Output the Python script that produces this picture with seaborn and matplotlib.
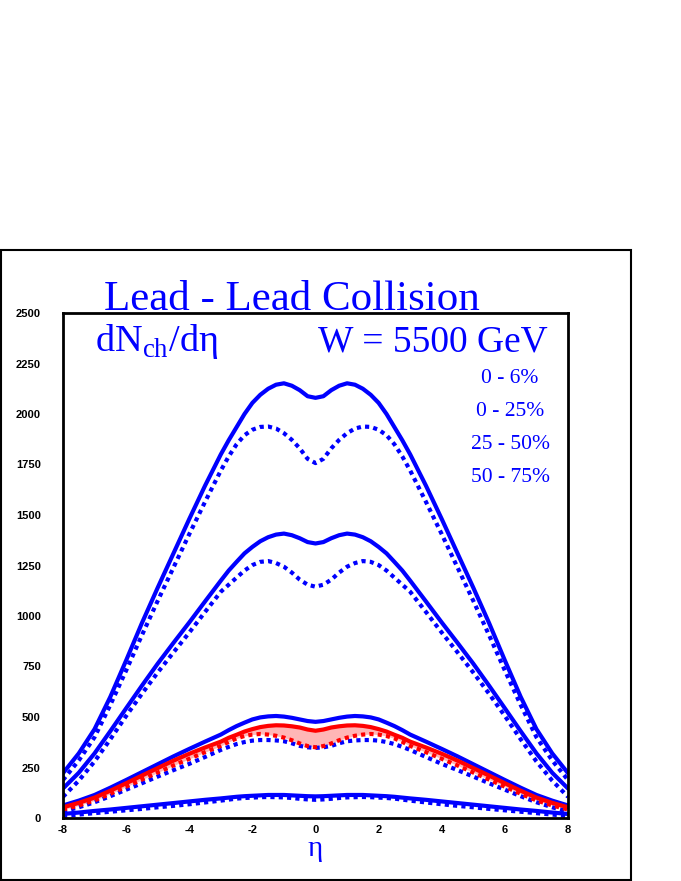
import numpy as np
import matplotlib
matplotlib.use('Agg')
import matplotlib.pyplot as plt
from matplotlib.patches import Rectangle
from matplotlib.ticker import MultipleLocator
import seaborn as sns

# pseudorapidity grid (finer around the central dip)
eta = [-8, -7.5, -7, -6.5, -6, -5.5, -5, -4.5, -4, -3.5, -3,
       -2.75, -2.5, -2.25, -2, -1.75, -1.5, -1.25, -1, -0.75, -0.5, -0.25, 0,
       0.25, 0.5, 0.75, 1, 1.25, 1.5, 1.75, 2, 2.25, 2.5, 2.75,
       3, 3.5, 4, 4.5, 5, 5.5, 6, 6.5, 7, 7.5, 8]

# 0 - 6 %
c1_solid = [222, 320, 440, 600, 780, 965, 1140, 1310, 1480, 1645, 1800,
            1870, 1935, 2000, 2055, 2095, 2125, 2145, 2152, 2140, 2118, 2088, 2080,
            2088, 2118, 2140, 2152, 2145, 2125, 2095, 2055, 2000, 1935, 1870,
            1800, 1645, 1480, 1310, 1140, 965, 780, 600, 440, 320, 222]
c1_dot = [188, 285, 400, 560, 730, 905, 1075, 1240, 1405, 1565, 1720,
          1790, 1850, 1895, 1922, 1936, 1938, 1928, 1905, 1872, 1830, 1778, 1757,
          1778, 1830, 1872, 1905, 1928, 1938, 1936, 1922, 1895, 1850, 1790,
          1720, 1565, 1405, 1240, 1075, 905, 730, 560, 400, 285, 188]
# 0 - 25 %
c2_solid = [146, 224, 320, 430, 543, 655, 764, 867, 968, 1072, 1175,
            1225, 1268, 1310, 1342, 1370, 1390, 1403, 1408, 1400, 1385, 1366, 1359,
            1366, 1385, 1400, 1408, 1403, 1390, 1370, 1342, 1310, 1268, 1225,
            1175, 1072, 968, 867, 764, 655, 543, 430, 320, 224, 146]
c2_dot = [105, 185, 280, 390, 505, 615, 720, 820, 918, 1020, 1120,
          1155, 1190, 1225, 1252, 1268, 1272, 1262, 1244, 1215, 1180, 1155, 1145,
          1155, 1180, 1215, 1244, 1262, 1272, 1268, 1252, 1225, 1190, 1155,
          1120, 1020, 918, 820, 720, 615, 505, 390, 280, 185, 105]
# 25 - 50 %
c3_solid = [62, 86, 114, 150, 188, 227, 266, 305, 342, 378, 413,
            435, 455, 472, 488, 498, 503, 505, 502, 496, 488, 480, 476,
            480, 488, 496, 502, 505, 503, 498, 488, 472, 455, 435,
            413, 378, 342, 305, 266, 227, 188, 150, 114, 86, 62]
red_solid = [53, 75, 101, 135, 172, 210, 247, 284, 318, 349, 378,
             397, 412, 428, 440, 450, 456, 459, 458, 454, 448, 438, 432,
             438, 448, 454, 458, 459, 456, 450, 440, 428, 412, 397,
             378, 349, 318, 284, 247, 210, 172, 135, 101, 75, 53]
red_dot = [42, 62, 87, 120, 155, 190, 225, 260, 293, 326, 357,
           377, 394, 406, 413, 416, 413, 407, 398, 385, 369, 356, 350,
           356, 369, 385, 398, 407, 413, 416, 413, 406, 394, 377,
           357, 326, 293, 260, 225, 190, 155, 120, 87, 62, 42]
c3_dot = [32, 53, 78, 108, 140, 172, 205, 237, 268, 302, 337,
          352, 366, 376, 383, 386, 386, 384, 380, 370, 357, 350, 347,
          350, 357, 370, 380, 384, 386, 386, 383, 376, 366, 352,
          337, 302, 268, 237, 205, 172, 140, 108, 78, 53, 32]
# 50 - 75 %
c4_solid = [20, 27, 35, 42, 50, 58, 66, 74, 82, 90, 97,
            101, 105, 108, 110, 112, 114, 114, 114, 112, 110, 108, 107,
            108, 110, 112, 114, 114, 114, 112, 110, 108, 105, 101,
            97, 90, 82, 74, 66, 58, 50, 42, 35, 27, 20]
c4_dot = [10, 17, 24, 31, 38, 45, 53, 60, 68, 77, 86,
          91, 96, 99, 101, 103, 104, 103, 102, 99, 95, 92, 90,
          92, 95, 99, 102, 103, 104, 103, 101, 99, 96, 91,
          86, 77, 68, 60, 53, 45, 38, 31, 24, 17, 10]

classes = ['0 - 6%', '0 - 25%', '25 - 50%', '50 - 75%']

sns.set_style('white')
plt.rcParams['font.family'] = ['Liberation Serif', 'DejaVu Serif']
plt.rcParams['mathtext.fontset'] = 'custom'
plt.rcParams['mathtext.rm'] = 'Liberation Serif'
plt.rcParams['axes.unicode_minus'] = False

BLUE = '#0000ff'
RED = '#ff0000'
DOT = (0, (1, 1))

fig = plt.figure(figsize=(6.81, 8.81), dpi=100)
ax = fig.add_axes([63/681, 1 - 818/881, 505/681, 505/881])

ax.fill_between(eta, red_dot, red_solid, color='#ffb6b6', lw=0)
for ys, col, ls in [(c1_solid, BLUE, '-'), (c1_dot, BLUE, DOT),
                    (c2_solid, BLUE, '-'), (c2_dot, BLUE, DOT),
                    (c3_solid, BLUE, '-'), (c3_dot, BLUE, DOT),
                    (red_solid, RED, '-'), (red_dot, RED, DOT),
                    (c4_solid, BLUE, '-'), (c4_dot, BLUE, DOT)]:
    sns.lineplot(x=eta, y=ys, ax=ax, color=col, linewidth=3, linestyle=ls)

ax.set_xlim(-8, 8)
ax.set_ylim(0, 2500)
ax.xaxis.set_major_locator(MultipleLocator(2))
ax.xaxis.set_minor_locator(MultipleLocator(0.5))
ax.yaxis.set_major_locator(MultipleLocator(250))
ax.yaxis.set_minor_locator(MultipleLocator(50))
ax.tick_params(which='both', direction='in', width=1.4, colors='black')
ax.tick_params(which='major', length=6.5)
ax.tick_params(which='minor', length=3.4)
ax.tick_params(axis='y', pad=16)
ax.tick_params(axis='x', pad=5)
for lab in ax.get_xticklabels() + ax.get_yticklabels():
    lab.set_fontfamily('Liberation Sans')
    lab.set_fontweight('bold')
    lab.set_fontsize(8)
for sp in ax.spines.values():
    sp.set_linewidth(2)
    sp.set_color('black')

# outer frame
fig.patches.append(Rectangle((1/681, 1/881), 630/681, 630/881, transform=fig.transFigure,
                             fill=False, edgecolor='black', lw=1.5))

fig.text(292/681, 1 - 310/881, 'Lead - Lead Collision', color=BLUE, fontsize=31,
         ha='center', va='baseline')
fig.text(95/681, 1 - 351/881, r'dN$_{\mathregular{ch}}$/dη', color=BLUE, fontsize=27.5,
         ha='left', va='baseline')
fig.text(548/681, 1 - 351/881, 'W = 5500 GeV', color=BLUE, fontsize=27,
         ha='right', va='baseline')
for i, lab in enumerate(classes):
    fig.text(510/681, 1 - (383 + 33*i)/881, lab, color=BLUE, fontsize=15.5,
             ha='center', va='baseline')
# axis title (mathtext keeps the box tight around the glyph)
fig.text(315/681, 1 - 856/881, r'$\mathregular{η}$', color=BLUE, fontsize=21,
         ha='center', va='baseline')

fig.savefig('out.png', dpi=100)
